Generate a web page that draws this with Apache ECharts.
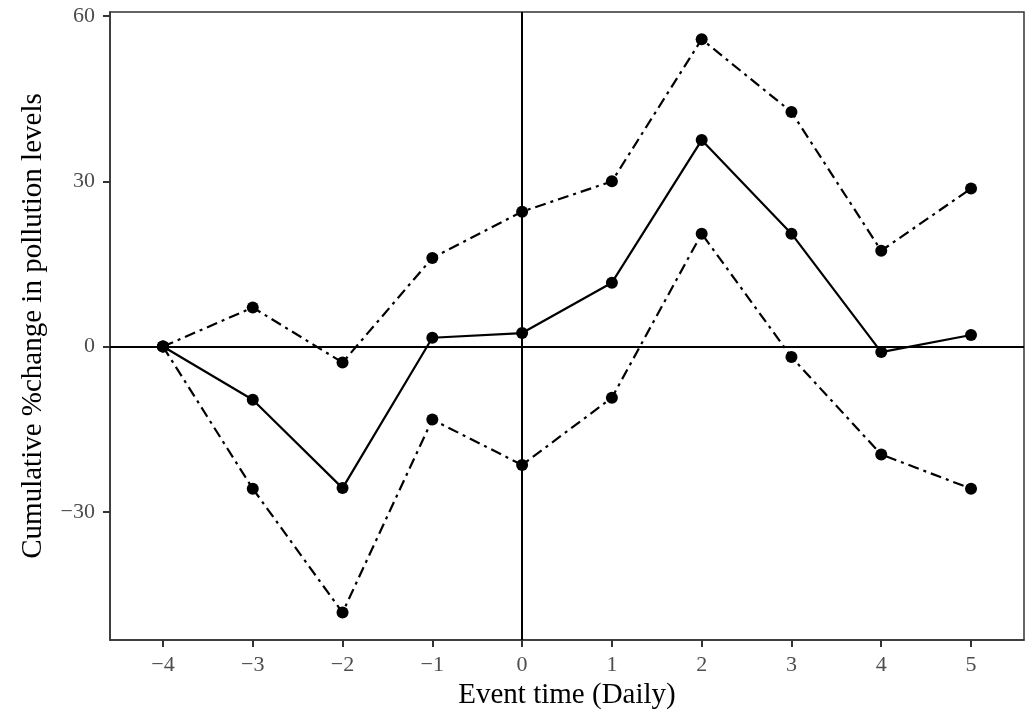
<!DOCTYPE html>
<html>
<head>
<meta charset="utf-8">
<script src="https://cdn.jsdelivr.net/npm/echarts@6/dist/echarts.min.js"></script>
<style>
html,body{margin:0;padding:0;background:#fff;}
#chart{width:1031px;height:715px;}
</style>
</head>
<body>
<div id="chart"></div>
<script>
var eventTime = [-4, -3, -2, -1, 0, 1, 2, 3, 4, 5];
var estimate  = [0, -9.65, -25.7, 1.6, 2.45, 11.6, 37.5, 20.5, -1.0, 2.1];
var upperCI   = [0, 7.1, -2.9, 16.1, 24.5, 30.0, 55.8, 42.6, 17.4, 28.7];
var lowerCI   = [0, -25.8, -48.3, -13.25, -21.5, -9.3, 20.5, -1.9, -19.6, -25.8];
var xTicks = [-4, -3, -2, -1, 0, 1, 2, 3, 4, 5];
var yTicks = [-30, 0, 30, 60];

function pairs(vals){ return eventTime.map(function(x,i){ return [x, vals[i]]; }); }

var serif = '"Liberation Serif", "DejaVu Serif", serif';
var dashDot = [11, 5, 3, 5];

var chart = echarts.init(document.getElementById('chart'), null, {renderer:'canvas'});
chart.setOption({
  animation: false,
  backgroundColor: '#fff',
  grid: {left: 110, right: 7, top: 12, bottom: 75, show: true, borderColor: '#333', borderWidth: 1.5, backgroundColor: 'transparent'},
  xAxis: {
    type: 'value', min: -4.59, max: 5.59,
    name: 'Event time (Daily)', nameLocation: 'middle', nameGap: 40,
    nameTextStyle: {fontFamily: serif, fontSize: 29, color: '#000'},
    splitLine: {show: false},
    axisLine: {show: true, onZero: false, lineStyle: {color: '#333', width: 1.5}},
    axisTick: {show: true, inside: false, length: 7, lineStyle: {color: '#333', width: 2}, customValues: xTicks},
    axisLabel: {fontFamily: serif, fontSize: 22, color: '#4d4d4d', margin: 14, customValues: xTicks,
      formatter: function(v){ return v < 0 ? '\u2212' + Math.abs(v) : String(v); }}
  },
  yAxis: {
    type: 'value', min: -53.28, max: 60.75,
    name: 'Cumulative %change in pollution levels', nameLocation: 'middle', nameGap: 62,
    nameTextStyle: {fontFamily: serif, fontSize: 29, color: '#000'},
    splitLine: {show: false},
    axisLine: {show: true, onZero: false, lineStyle: {color: '#333', width: 1.5}},
    axisTick: {show: true, inside: false, length: 7, lineStyle: {color: '#333', width: 2}, customValues: yTicks},
    axisLabel: {fontFamily: serif, fontSize: 22, color: '#4d4d4d', margin: 15, customValues: yTicks,
      formatter: function(v){ return v < 0 ? '\u2212' + Math.abs(v) : String(v); }}
  },
  series: [
    {
      type: 'line', data: [], silent: true,
      markLine: {
        silent: true, symbol: ['none','none'], label: {show: false},
        lineStyle: {color: '#000', width: 2, type: 'solid'},
        emphasis: {disabled: true},
        data: [{xAxis: 0}, {yAxis: 0}]
      }
    },
    {
      type: 'line', data: pairs(upperCI), symbol: 'circle', symbolSize: 12,
      itemStyle: {color: '#000'},
      lineStyle: {color: '#000', width: 2.2, type: dashDot, cap: 'butt'}
    },
    {
      type: 'line', data: pairs(lowerCI), symbol: 'circle', symbolSize: 12,
      itemStyle: {color: '#000'},
      lineStyle: {color: '#000', width: 2.2, type: dashDot, cap: 'butt'}
    },
    {
      type: 'line', data: pairs(estimate), symbol: 'circle', symbolSize: 12,
      itemStyle: {color: '#000'},
      lineStyle: {color: '#000', width: 2.2, type: 'solid'}
    }
  ]
});
</script>
</body>
</html>
